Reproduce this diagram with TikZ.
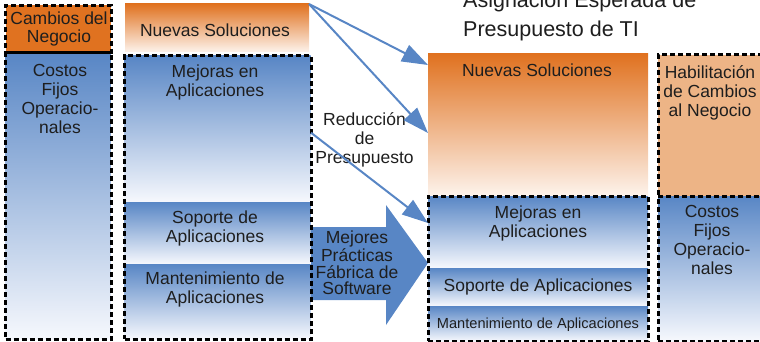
\documentclass[tikz,border=0pt]{standalone}
\usepackage{fontspec}
\setmainfont{Liberation Sans}
\usetikzlibrary{arrows.meta,calc}
\definecolor{bl}{RGB}{88,134,197}
\definecolor{blw}{RGB}{246,248,253}
\definecolor{org}{RGB}{224,114,32}
\definecolor{orl}{RGB}{237,180,134}
\definecolor{orw}{RGB}{253,243,236}
\definecolor{ink}{RGB}{30,30,30}
\begin{document}
\begin{tikzpicture}[x=1pt,y=-1pt,
  box/.style={rectangle,inner sep=0pt,outer sep=0pt,anchor=north west,draw=none},
  bshade/.style={box,top color=bl,bottom color=blw},
  oshade/.style={box,top color=org,bottom color=orw},
  frame/.style={rectangle,inner sep=0pt,outer sep=0pt,anchor=north west,draw=black,
     dash pattern=on 5pt off 3pt,line width=3pt},
  txt/.style={font=\fontsize{17.5}{19}\selectfont,align=center,anchor=base,inner sep=0pt,text=ink},
  conn/.style={draw=bl,line width=2pt,-{Triangle[length=26pt,width=18pt]}}]
\useasboundingbox (0,0) rectangle (760,342);
\clip (0,0) rectangle (760,342);

% ---------- left column ----------
\node[box,fill=org,minimum width=105pt,minimum height=48pt] (cam) at (5.5,5) {};
\node[bshade,minimum width=105pt,minimum height=286pt] (cos1) at (5.5,53) {};
\node[frame,minimum width=105.5pt,minimum height=47.7pt] (fcam) at (5.5,5.3) {};
\node[frame,minimum width=105.5pt,minimum height=286pt] (fcos1) at (5.5,53) {};
\node[txt,font=\fontsize{17.5}{18}\selectfont] (tcam) at (59,43) {Cambios del\\Negocio};
\node[txt] (tcos1) at (60,134) {Costos\\Fijos\\Operacio-\\nales};

% ---------- second column ----------
\node[oshade,minimum width=184pt,minimum height=48pt] (ns2) at (125,4) {};
\node[bshade,minimum width=186pt,minimum height=146pt] (mej2) at (124.5,56) {};
\node[bshade,minimum width=186pt,minimum height=62pt] (sop2) at (124.5,202) {};
\node[bshade,minimum width=186pt,minimum height=75pt] (man2) at (124.5,264) {};
\node[txt] (tns2) at (215,37) {Nuevas Soluciones};
\node[txt] (tmej2) at (215,96.5) {Mejoras en\\Aplicaciones};
\node[txt] (tsop2) at (215,242) {Soporte de\\Aplicaciones};
\node[txt] (tman2) at (215,303) {Mantenimiento de\\Aplicaciones};

% ---------- big arrow ----------
\fill[bl] (311,227) -- (386,227) -- (386,205) -- (428,263) -- (386,325) -- (386,300) -- (311,300) -- cycle;
\node[txt,font=\fontsize{17.5}{16.5}\selectfont] (tbest) at (357,294.5) {Mejores\\Prácticas\\Fábrica de\\Software};

\node[frame,minimum width=186.5pt,minimum height=283.5pt] (f2) at (124.5,55.7) {};

% ---------- title ----------
\node[font=\fontsize{21.5}{29}\selectfont,align=left,anchor=base west,inner sep=0pt,text=ink] (title) at (463,37) {Asignación Esperada de\\Presupuesto de TI};

% ---------- third column ----------
\node[oshade,minimum width=220pt,minimum height=142pt] (ns3) at (428,54) {};
\node[bshade,minimum width=220pt,minimum height=72pt] (mej3) at (428,196) {};
\node[bshade,minimum width=220pt,minimum height=38pt] (sop3) at (428,268) {};
\node[bshade,minimum width=220pt,minimum height=35pt] (man3) at (428,306) {};
\node[frame,minimum width=220.5pt,minimum height=145pt] (f3) at (428,196) {};
\node[txt] (tns3) at (537,77) {Nuevas Soluciones};
\node[txt] (tmej3) at (538,237) {Mejoras en\\Aplicaciones};
\node[txt] (tsop3) at (538,291) {Soporte de Aplicaciones};
\node[txt,font=\fontsize{14.6}{17}\selectfont] (tman3) at (538,328) {Mantenimiento de Aplicaciones};

% ---------- fourth column ----------
\node[box,fill=orl,minimum width=110pt,minimum height=141pt] (hab) at (658,55) {};
\node[bshade,minimum width=110pt,minimum height=145pt] (cos4) at (658,196) {};
\node[frame,minimum width=110pt,minimum height=141pt] (fhab) at (658,55) {};
\node[frame,minimum width=110pt,minimum height=145pt] (fcos4) at (658,196) {};
\node[txt] (thab) at (710,117) {Habilitación\\de Cambios\\al Negocio};
\node[txt] (tcos4) at (712,274.5) {Costos\\Fijos\\Operacio-\\nales};

% ---------- reduction label and connectors ----------
\node[txt,font=\fontsize{17.5}{18.5}\selectfont] (tred) at (364.5,163) {Reducción\\de\\Presupuesto};
\coordinate (a1) at ($(ns3.north west)+(0,11)$);
\coordinate (a2) at ($(ns3.north west)+(0,79)$);
\coordinate (s3) at ($(f2.north east)+(0,77)$);
\coordinate (a3) at ($(f3.north west)+(0,27)$);
\draw[conn] (ns2.north east) -- (a1);
\draw[conn] (ns2.north east) -- (a2);
\draw[conn] (s3) -- (a3);
\end{tikzpicture}
\end{document}
